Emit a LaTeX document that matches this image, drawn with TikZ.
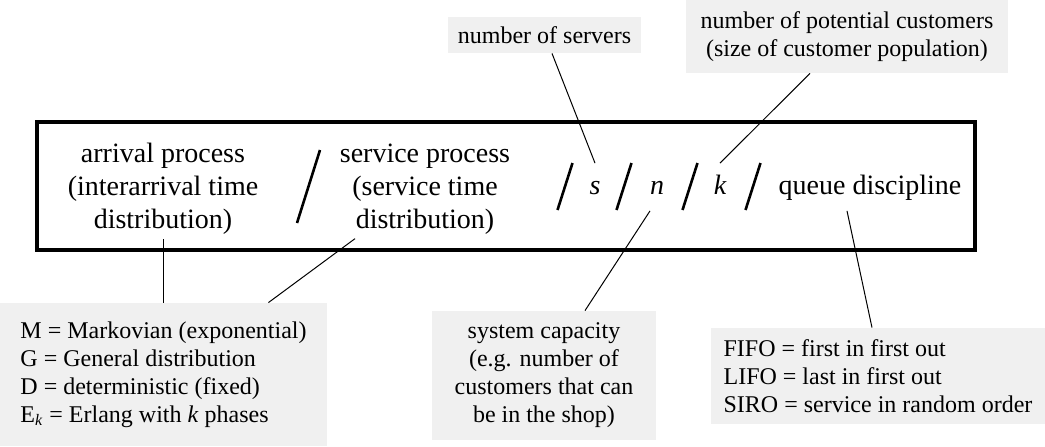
\documentclass[tikz,border=0pt]{standalone}
\usepackage{fontspec}
\setmainfont{Liberation Serif}
\usetikzlibrary{positioning,calc}
\definecolor{notegray}{HTML}{F0F0F0}

\begin{document}
\begin{tikzpicture}[x=0.5pt,y=-0.5pt,
    big/.style={font=\fontsize{14}{16.5}\selectfont,align=center,inner sep=2pt},
    var/.style={font=\fontsize{14}{16.5}\selectfont\itshape,inner sep=0pt,text height=15.5pt,text depth=8pt},
    note/.style={fill=notegray,font=\fontsize{12}{14}\selectfont,inner sep=0pt},
    sep/.style={line width=1.3pt},
    lead/.style={line width=0.5pt}]
    \useasboundingbox (0,0) rectangle (1045,446);
    % Kendall notation A / B / s / n / k / D
    \draw[line width=1.6pt] (37,122) rectangle (975,250);
    \node[big] (arr) at (163,189) {arrival process\\(interarrival time\\distribution)};
    \node[big] (serv) at (425,189) {service process\\(service time\\distribution)};
    \node[var] (s) at (595,187) {s};
    \node[var] (n) at (657,187) {n};
    \node[var] (k) at (720,187) {k};
    \node[big,text height=15.5pt,text depth=8pt,inner sep=0pt] (queue) at (870,187) {queue discipline};
    \draw[sep] (297,223) -- (320,150);
    \foreach \x in {565,624,690,753}
      \draw[sep] (\x-7.5,210) -- (\x+7.5,163);
    % notes around the box
    \node[note,minimum width=96.5pt,minimum height=18pt] (srv) at (544.5,35) {number of servers};
    \node[note,minimum width=161pt,minimum height=36.5pt,align=center] (pot) at (847,36.5) {number of potential customers\\(size of customer population)};
    \node[note,minimum width=163.5pt,minimum height=71.5pt,align=left] (mkv) at (163.5,374.5)
      {M = Markovian (exponential)\\G = General distribution\\D = deterministic (fixed)\\E\textsubscript{\textit{k}} = Erlang with \textit{k} phases};
    \node[note,minimum width=112pt,minimum height=64.5pt,align=center] (cap) at (544,375.5)
      {system capacity\\(e.g. number of\\customers that can\\be in the shop)};
    \node[note,minimum width=167pt,minimum height=48pt,align=left] (fifo) at (878,376)
      {FIFO = first in first out\\LIFO = last in first out\\SIRO = service in random order};
    \draw[lead] ($(srv.south)+(7.5,0)$) -- (s.north);
    \draw[lead] ($(pot.south)+(-37,0)$) -- (k.north);
    \draw[lead] ($(n.south)+(-7,0)$) -- ($(cap.north)+(41,0)$);
    \draw[lead] ($(queue.south)+(-23,0)$) -- ($(fifo.north)+(-6,0)$);
    \draw[lead] (arr.south) -- (arr.south |- mkv.north);
    \draw[lead] ($(serv.south)+(-70,0)$) -- ($(mkv.north east)+(-59,0)$);
\end{tikzpicture}
\end{document}
